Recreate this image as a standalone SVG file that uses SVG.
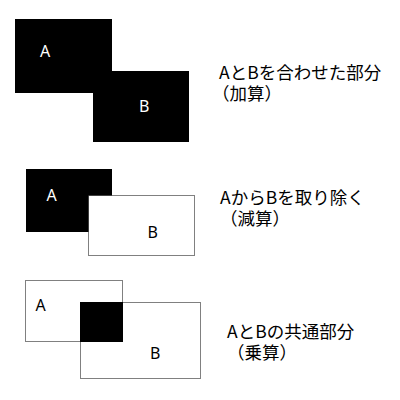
<svg xmlns="http://www.w3.org/2000/svg" width="400" height="400" viewBox="0 0 400 400">
<style>
.lbl{font-family:"Noto Sans","Noto Sans CJK JP",sans-serif;font-size:16px}
.w{fill:#fff}
.k{fill:#000}
.cap{font-family:"Noto Sans CJK JP","Noto Sans",sans-serif;font-size:17.5px;fill:#000}
.dot{fill:none;stroke:#000;stroke-width:1;stroke-dasharray:1 1}
.dotw{fill:#fff;stroke:#000;stroke-width:1;stroke-dasharray:1 1}
</style>
<rect width="400" height="400" fill="#fff"/>
<g id="union">
<rect x="15" y="19" width="97" height="74" fill="#000"/>
<rect x="93" y="71" width="96" height="71" fill="#000"/>
<text class="lbl w" x="40" y="57">A</text>
<text class="lbl w" x="139" y="112">B</text>
<text class="cap"><tspan x="219" y="79">AとBを合わせた部分</tspan><tspan x="212" y="100">（加算）</tspan></text>
</g>
<g id="difference">
<rect x="26" y="169" width="86" height="63" fill="#000"/>
<rect class="dotw" x="88.5" y="195.5" width="106" height="60"/>
<text class="lbl w" x="46.5" y="201">A</text>
<text class="lbl k" x="147.5" y="238">B</text>
<text class="cap"><tspan x="220" y="204">AからBを取り除く</tspan><tspan x="220" y="225">（減算）</tspan></text>
</g>
<g id="intersection">
<rect class="dot" x="25.5" y="280.5" width="97" height="61"/>
<rect class="dot" x="80.5" y="302.5" width="120" height="76"/>
<rect x="80" y="302" width="43" height="40" fill="#000"/>
<text class="lbl k" x="35.5" y="311">A</text>
<text class="lbl k" x="150" y="359">B</text>
<text class="cap"><tspan x="227" y="338">AとBの共通部分</tspan><tspan x="227" y="359">（乗算）</tspan></text>
</g>
</svg>
